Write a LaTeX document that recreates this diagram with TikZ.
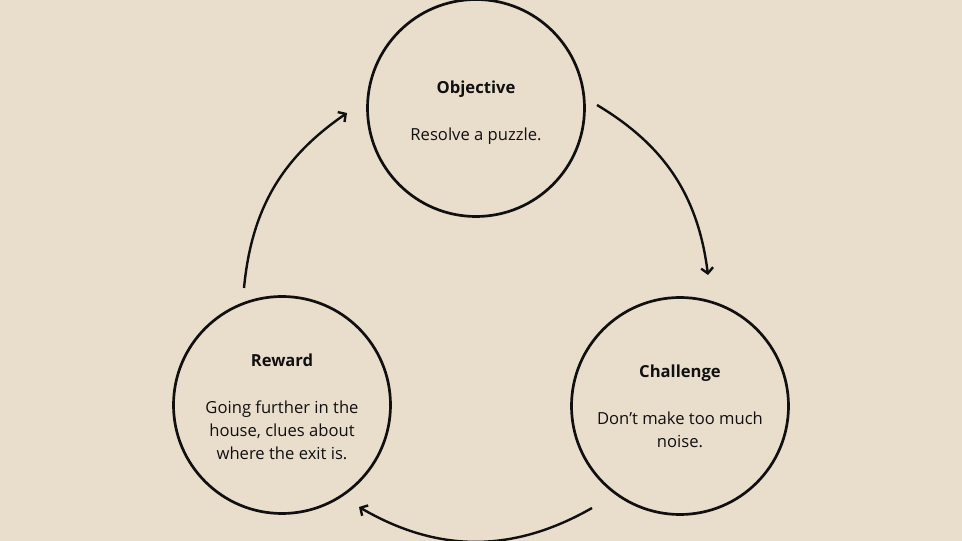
\documentclass[tikz,border=0pt]{standalone}
\usepackage{fontspec}
\setmainfont{Open Sans}
\usetikzlibrary{arrows.meta}
\definecolor{paper}{HTML}{E9DDCC}
\definecolor{ink}{HTML}{111010}

\begin{document}
\begin{tikzpicture}[x=1pt,y=1pt,>={Straight Barb[length=5.5pt,width=12pt]},
    main node/.style={circle,draw=ink,line width=2.7pt,minimum size=217pt,inner sep=0pt,align=center,text=ink,font=\fontsize{16.6}{23}\selectfont},
    flow/.style={->,draw=ink,line width=2.4pt}]

                \fill[paper] (0,0) rectangle (962,541);
                \useasboundingbox (0,0) rectangle (962,541);

                \node[main node] (1) at (476,433) {\rule{0pt}{21.6pt}\textbf{Objective}\\[24pt] Resolve a puzzle.};
                \node[main node] (2) at (680,135) {\textbf{Challenge}\\[24pt] Don't make too much\\ noise.};
                \node[main node] (3) at (282,136) {\rule{0pt}{16.6pt}\textbf{Reward}\\[24pt] Going further in the\\ house, clues about\\ where the exit is.};

                \coordinate (1s) at (597,436);
                \coordinate (1e) at (708,266);
                \coordinate (2s) at (592,33);
                \coordinate (2e) at (359,34);
                \coordinate (3s) at (244,253);
                \coordinate (3e) at (347,428);

                \draw[flow] (1s) to[bend left=26] (1e);
                \draw[flow] (2s) to[bend left=30] (2e);
                \draw[flow] (3s) to[bend left=25] (3e);
            \end{tikzpicture}
\end{document}
